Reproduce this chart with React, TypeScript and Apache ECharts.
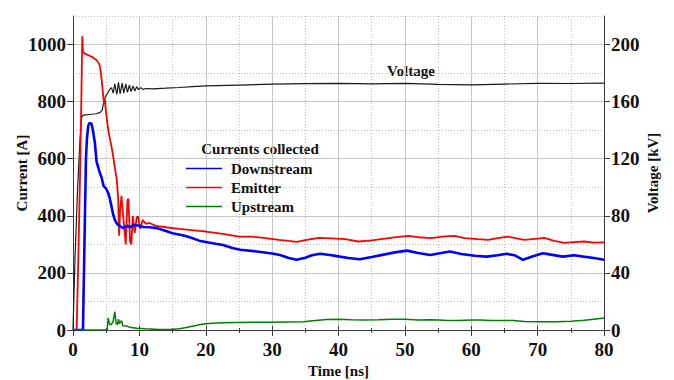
import React, { useEffect, useRef } from "react";
import * as echarts from "echarts";

// ---- Data ----
const emitterT = [0, 0.55, 0.8, 1.05, 1.25, 1.4, 1.5, 1.8, 2.2, 2.6, 3.0, 3.5, 3.8, 4.05, 4.2, 4.35, 4.55, 4.7, 4.8, 4.9, 5.05, 5.3, 5.6, 5.8, 6.05, 6.3, 6.6, 6.8, 6.95, 7.1, 7.3, 7.55, 7.75, 7.95, 8.2, 8.35, 8.6, 8.8, 9.0, 9.3, 9.6, 9.8, 10.1, 10.5, 11.0, 11.5, 12.5, 14, 15, 16, 17.5, 19, 20, 21.5, 23, 25, 27, 29, 31, 32.5, 33.7, 35, 37, 39, 41, 43, 45, 47, 49, 50.5, 52, 54, 56, 57.5, 59, 61, 62.5, 64, 65.5, 67, 68, 70, 71, 72.5, 74, 75.5, 77, 78.5, 80];
const emitterA = [0, 0, 250, 526, 800, 1029, 975, 968, 964, 960, 955, 946, 938, 925, 900, 870, 820, 790, 808, 780, 748, 702, 665, 643, 608, 570, 526, 463, 330, 420, 470, 400, 350, 300, 455, 460, 310, 300, 400, 340, 395, 398, 355, 385, 372, 375, 365, 360, 357, 354, 351, 347, 345, 340, 335, 327, 327, 322, 316, 312, 309, 315, 323, 321, 318, 310, 314, 320, 326, 330, 325, 322, 328, 330, 322, 318, 316, 322, 327, 320, 316, 320, 323, 312, 305, 308, 310, 306, 307];

const downT = [0, 1.5, 1.95, 2.1, 2.3, 2.5, 2.8, 3.0, 3.3, 3.55, 3.8, 4.05, 4.3, 4.6, 5.0, 5.3, 5.55, 5.8, 6.05, 6.3, 6.55, 6.8, 7.2, 7.6, 8.1, 8.6, 9.2, 10, 10.6, 11.5, 12.6, 14, 15, 16.5, 17.6, 19, 20, 21.5, 22.6, 24, 25.2, 27.7, 30, 31.2, 32.5, 33.7, 35, 36, 37.2, 38.7, 40.2, 41.5, 43.2, 45, 47, 48.5, 50.3, 52, 53.8, 55.5, 56.8, 58.5, 60.5, 62.3, 64, 65.3, 66.5, 67.8, 69.3, 70.8, 72, 73.8, 75.5, 76.9, 78.5, 80];
const downA = [0, 0, 600, 670, 715, 726, 722, 700, 655, 590, 570, 550, 535, 505, 495, 480, 460, 433, 405, 386, 375, 368, 362, 357, 365, 360, 368, 365, 361, 360, 357, 347, 339, 332, 325, 313, 308, 302, 298, 287, 281, 275, 268, 263, 252, 246, 253, 262, 267, 263, 257, 252, 248, 256, 265, 272, 278, 270, 263, 270, 275, 266, 260, 257, 262, 267, 262, 246, 258, 269, 264, 257, 262, 257, 252, 246];

const upT = [0, 5.15, 5.3, 5.45, 5.6, 5.8, 6.05, 6.3, 6.5, 6.7, 6.85, 7.0, 7.3, 7.5, 8.1, 8.5, 9.6, 11, 13, 14.6, 16, 17.1, 18.5, 19.6, 21, 22.5, 24.6, 27, 29.7, 32, 34.7, 36.5, 38.2, 40, 42, 44, 46, 48, 50, 52, 54, 56, 58, 60, 61.3, 63, 66.3, 68, 70, 72.8, 75, 77, 78.5, 80];
const upA = [0, 0, 42, 25, 18, 20, 30, 64, 22, 20, 38, 22, 33, 15, 14, 10, 6, 4, 2, 2, 4, 9, 16, 21, 24, 25, 26, 27, 27, 28, 29, 33, 37, 38, 36, 35, 36, 38, 38, 35, 36, 34, 33, 35, 35, 33, 33, 30, 29, 29, 31, 34, 38, 42];

const voltT = [0, 0.1, 0.3, 0.7, 1.05, 1.3, 1.5, 2.5, 3.5, 4.1, 4.4, 4.6, 4.85, 5.07, 5.3, 5.5, 5.8, 6.05, 6.3, 6.6, 6.85, 7.1, 7.4, 7.65, 7.95, 8.2, 8.5, 8.75, 9.05, 9.3, 9.6, 9.85, 10.2, 10.5, 11, 12, 14, 16, 18, 20, 25, 30, 35, 40, 45, 50, 55, 60, 65, 70, 75, 80];
const voltKV = [0, 0, 50, 100, 133, 149, 150.5, 151, 151.5, 152.5, 154, 159, 163, 165, 166.5, 168.4, 169.8, 166, 172.5, 165, 173.5, 165.5, 173, 166, 172.5, 166.5, 171.5, 167, 171, 167.5, 170.5, 168.5, 169.8, 168.6, 169.2, 169, 169.4, 169.9, 170.5, 171, 171.6, 172.2, 172.6, 172.8, 172.5, 172.8, 172.1, 171.8, 172.3, 172.8, 172.7, 173];

const currentTicks = [0, 200, 400, 600, 800, 1000];
const voltageTicks = [0, 40, 80, 120, 160, 200];

const zip = (t: number[], v: number[]) => t.map((x, i) => [x, v[i]]);

const FONT = '"Liberation Serif", "Times New Roman", serif';
const AXIS_COLOR = "#3a3a3a";
const TEXT_COLOR = "#111";

export default function App() {
  const ref = useRef<HTMLDivElement>(null);

  useEffect(() => {
    document.body.style.margin = "0";
    if (!ref.current) return;
    const chart = echarts.init(ref.current, null, { renderer: "svg" });

    const labelStyle = {
      fontFamily: FONT,
      fontWeight: "bold" as const,
      fontSize: 19,
      color: TEXT_COLOR,
    };
    const nameStyle = {
      fontFamily: FONT,
      fontWeight: "bold" as const,
      fontSize: 15,
      color: TEXT_COLOR,
    };

    chart.setOption({
      animation: false,
      backgroundColor: "#fff",
      grid: { left: 73, right: 70, top: 16, bottom: 50, containLabel: false, outerBoundsMode: "none" },
      legend: {
        data: ["Downstream", "Emitter", "Upstream"],
        orient: "vertical",
        left: 186,
        top: 161,
        icon: "rect",
        itemWidth: 36,
        itemHeight: 1.3,
        itemGap: 4,
        padding: 0,
        lineStyle: { width: 1 },
        textStyle: { ...nameStyle, padding: [0, 0, 0, 4] },
      },
      graphic: [
        {
          type: "text",
          x: 260,
          y: 149,
          style: {
            text: "Currents collected",
            font: `bold 15px ${FONT}`,
            fill: TEXT_COLOR,
            textAlign: "center",
            textVerticalAlign: "middle",
          },
        },
        {
          type: "text",
          x: 411,
          y: 71,
          style: {
            text: "Voltage",
            font: `bold 15px ${FONT}`,
            fill: TEXT_COLOR,
            textAlign: "center",
            textVerticalAlign: "middle",
          },
        },
      ],
      xAxis: [
        {
          type: "value",
          position: "bottom",
          min: 0,
          max: 80,
          interval: 10,
          name: "Time [ns]",
          nameLocation: "middle",
          nameGap: 33,
          nameMoveOverlap: false,
          nameTextStyle: nameStyle,
          axisLine: { show: true, lineStyle: { color: AXIS_COLOR } },
          axisTick: { show: true, length: 6, lineStyle: { color: AXIS_COLOR } },
          minorTick: { show: true, splitNumber: 2, length: 3, lineStyle: { color: AXIS_COLOR } },
          axisLabel: { ...labelStyle, margin: 10 },
          splitLine: { show: true, lineStyle: { color: "#c6c6c6", width: 1 } },
          minorSplitLine: { show: true, lineStyle: { color: "#bdbdbd", type: [1, 2] } },
        },
        {
          type: "value",
          position: "top",
          min: 0,
          max: 80,
          interval: 10,
          axisLine: { show: true, lineStyle: { color: AXIS_COLOR } },
          axisTick: { show: true, length: 4, lineStyle: { color: AXIS_COLOR } },
          minorTick: { show: true, splitNumber: 2, length: 2, lineStyle: { color: AXIS_COLOR } },
          axisLabel: { show: false },
          splitLine: { show: false },
        },
      ],
      yAxis: [
        {
          // hidden axis for the dotted 100 A grid
          type: "value",
          position: "left",
          min: 0,
          max: 1100,
          interval: 100,
          axisLine: { show: false },
          axisTick: { show: false },
          axisLabel: { show: false },
          splitLine: { show: true, lineStyle: { color: "#bdbdbd", type: [1, 2] } },
        },
        {
          type: "value",
          position: "left",
          min: 0,
          max: 1100,
          interval: 200,
          name: "Current [A]",
          nameLocation: "middle",
          nameGap: 44,
          nameMoveOverlap: false,
          nameRotate: 90,
          nameTextStyle: nameStyle,
          axisLine: { show: true, lineStyle: { color: AXIS_COLOR } },
          axisTick: { show: true, length: 6, customValues: currentTicks, lineStyle: { color: AXIS_COLOR } },
          axisLabel: {
            ...labelStyle,
            margin: 7,
            customValues: currentTicks,
            formatter: (v: number) => (v > 1000 ? "" : String(v)),
          },
          splitLine: { show: true, lineStyle: { color: "#c6c6c6", width: 1 } },
        },
        {
          type: "value",
          position: "right",
          min: 0,
          max: 220,
          interval: 40,
          name: "Voltage [kV]",
          nameLocation: "middle",
          nameGap: 41,
          nameMoveOverlap: false,
          nameRotate: 90,
          nameTextStyle: nameStyle,
          axisLine: { show: true, lineStyle: { color: AXIS_COLOR } },
          axisTick: { show: true, length: 6, customValues: voltageTicks, lineStyle: { color: AXIS_COLOR } },
          axisLabel: {
            ...labelStyle,
            margin: 7,
            customValues: voltageTicks,
            formatter: (v: number) => (v > 200 ? "" : String(v)),
          },
          splitLine: { show: false },
        },
      ],
      series: [
        {
          name: "Voltage",
          type: "line",
          xAxisIndex: 0,
          yAxisIndex: 2,
          data: zip(voltT, voltKV),
          symbol: "none",
          lineStyle: { color: "#1a1a1a", width: 1.2 },
          itemStyle: { color: "#1a1a1a" },
        },
        {
          name: "Emitter",
          type: "line",
          xAxisIndex: 0,
          yAxisIndex: 1,
          data: zip(emitterT, emitterA),
          symbol: "none",
          lineStyle: { color: "#ff0000", width: 1.8 },
          itemStyle: { color: "#ff0000" },
        },
        {
          name: "Downstream",
          type: "line",
          xAxisIndex: 0,
          yAxisIndex: 1,
          data: zip(downT, downA),
          symbol: "none",
          lineStyle: { color: "#0000ff", width: 2.6 },
          itemStyle: { color: "#0000ff" },
        },
        {
          name: "Upstream",
          type: "line",
          xAxisIndex: 0,
          yAxisIndex: 1,
          data: zip(upT, upA),
          symbol: "none",
          lineStyle: { color: "#008000", width: 1.5 },
          itemStyle: { color: "#008000" },
        },
      ],
    });

    return () => chart.dispose();
  }, []);

  return (
    <div
      ref={ref}
      style={{ position: "absolute", left: 0, top: 0, width: 674, height: 380, background: "#fff" }}
    />
  );
}
